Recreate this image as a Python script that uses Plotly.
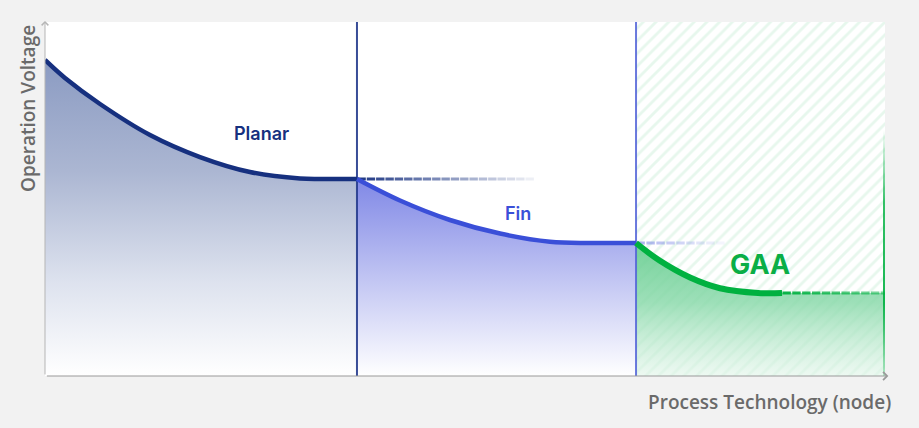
import plotly.graph_objects as go

# ---------------- data (x: process node position 0-100, y: operation voltage 0-100) -------------
planar_x = [0.0, 2.38, 6.55, 12.5, 18.45, 24.4, 30.36, 32.74, 37.14]
planar_y = [89.27, 84.18, 76.84, 68.08, 61.86, 57.63, 55.79, 55.65, 55.65]

fin_x = [37.14, 42.26, 48.21, 54.17, 60.12, 64.88, 70.36]
fin_y = [55.65, 49.58, 44.07, 40.25, 37.94, 37.57, 37.57]

gaa_x = [70.36, 73.21, 76.79, 80.36, 84.88, 87.74]
gaa_y = [37.57, 32.54, 27.82, 24.79, 23.45, 23.45]

planar_ext_end = 57.7
fin_ext_end = 80.4
gaa_ext_end = 100.0

boundaries = [37.14, 70.36, 100.0]
y_top = 100.0

labels = ["Planar", "Fin", "GAA"]
label_x = [25.8, 56.3, 85.1]
label_y = [68.6, 46.0, 31.4]

x_title = "Process Technology (node)"
y_title = "Operation Voltage"

# ---------------- styles -------------
NAVY = "#16307f"
BLUE = "#3a4fd8"
GREEN = "#00b140"

fig = go.Figure()

# GAA hatched zone
fig.add_trace(go.Bar(
    x=[(boundaries[1] + boundaries[2]) / 2], y=[y_top], base=0,
    width=[boundaries[2] - boundaries[1]],
    marker=dict(color="rgba(0,0,0,0)", line=dict(width=0),
                pattern=dict(shape="/", fgcolor="#d0f0dc", bgcolor="rgba(0,0,0,0)",
                             size=9, solidity=0.32, fillmode="overlay")),
    hoverinfo="skip", showlegend=False))

# fills
fig.add_trace(go.Scatter(
    x=planar_x, y=planar_y, mode="none", fill="tozeroy", line_shape="spline",
    fillgradient=dict(type="vertical", start=0, stop=planar_y[0],
                      colorscale=[[0, "#ffffff"], [0.3, "#dde2ee"], [0.65, "#abb6d2"], [1, "#8b9bc2"]]),
    hoverinfo="skip", showlegend=False))
fig.add_trace(go.Scatter(
    x=fin_x, y=fin_y, mode="none", fill="tozeroy", line_shape="spline",
    fillgradient=dict(type="vertical", start=0, stop=fin_y[0],
                      colorscale=[[0, "#ffffff"], [0.4, "#cdd0f5"], [1, "#8088e6"]]),
    hoverinfo="skip", showlegend=False))
gx = gaa_x + [gaa_ext_end]
gy = gaa_y + [gaa_y[-1]]
fig.add_trace(go.Scatter(
    x=gx, y=gy, mode="none", fill="tozeroy", line_shape="spline",
    fillgradient=dict(type="vertical", start=0, stop=gaa_y[0],
                      colorscale=[[0, "rgba(225,245,233,0.6)"], [0.55, "rgba(140,218,172,0.85)"],
                                  [1, "rgba(100,204,142,0.9)"]]),
    hoverinfo="skip", showlegend=False))

# boundary lines
fig.add_trace(go.Scatter(x=[boundaries[0]] * 2, y=[0, y_top], mode="lines",
                         line=dict(color="rgba(35,58,140,0.9)", width=2),
                         hoverinfo="skip", showlegend=False))
fig.add_trace(go.Scatter(x=[boundaries[1]] * 2, y=[0, y_top], mode="lines",
                         line=dict(color="rgba(80,98,215,0.85)", width=2),
                         hoverinfo="skip", showlegend=False))
gw = 0.24
fig.add_trace(go.Scatter(
    x=[boundaries[2] - gw, boundaries[2], boundaries[2], boundaries[2] - gw, boundaries[2] - gw],
    y=[0, 0, 69.5, 69.5, 0], mode="none", fill="toself",
    fillgradient=dict(type="vertical", start=0, stop=69.5,
                      colorscale=[[0, "rgba(0,177,64,0.25)"], [0.3, "rgba(0,177,64,0.9)"],
                                  [0.7, "rgba(0,177,64,0.8)"], [1, "rgba(0,177,64,0)"]]),
    hoverinfo="skip", showlegend=False))


# dashed extensions (fading)
def dashed(x0, x1, y, rgb, a0, a1, width):
    n = int(round((x1 - x0) / 1.07))
    xs = [x0 + 0.55 + i * (x1 - x0 - 0.55) / max(n - 1, 1) for i in range(n)]
    cols = [f"rgba({rgb},{a0 + (a1 - a0) * i / max(n - 1, 1):.3f})" for i in range(n)]
    fig.add_trace(go.Scatter(
        x=xs, y=[y] * n, mode="markers",
        marker=dict(symbol="line-ew", size=6, line=dict(color=cols, width=width)),
        hoverinfo="skip", showlegend=False))


dashed(planar_x[-1], planar_ext_end, planar_y[-1], "22,48,127", 0.95, 0.08, 3)
dashed(fin_x[-1], fin_ext_end, fin_y[-1], "120,132,228", 0.6, 0.08, 3)
dashed(gaa_x[-1], gaa_ext_end, gaa_y[-1], "0,177,64", 0.95, 0.5, 3)

# curves
fig.add_trace(go.Scatter(x=planar_x, y=planar_y, mode="lines", line_shape="spline",
                         line=dict(color=NAVY, width=4.5), hoverinfo="skip", showlegend=False))
fig.add_trace(go.Scatter(x=fin_x, y=fin_y, mode="lines", line_shape="spline",
                         line=dict(color=BLUE, width=4.5), hoverinfo="skip", showlegend=False))
fig.add_trace(go.Scatter(x=gaa_x, y=gaa_y, mode="lines", line_shape="spline",
                         line=dict(color=GREEN, width=6), hoverinfo="skip", showlegend=False))

# labels
lab_cols = [NAVY, BLUE, "#0aae46"]
lab_sizes = [18, 18, 27]
lab_weights = [600, 600, 700]
for t, lx, ly, c, s, w in zip(labels, label_x, label_y, lab_cols, lab_sizes, lab_weights):
    fig.add_annotation(x=lx, y=ly, text=t, showarrow=False,
                       font=dict(family="Inter", size=s, color=c, weight=w))

# axes arrows
fig.add_annotation(xref="paper", yref="paper", x=1.004, y=0, ax=-843, ay=0,
                   axref="pixel", ayref="pixel", text="", showarrow=True,
                   arrowhead=4, arrowsize=1.3, arrowwidth=1.2, arrowcolor="#9a9a9a")
fig.add_annotation(xref="paper", yref="paper", x=0, y=1.003, ax=0, ay=355,
                   axref="pixel", ayref="pixel", text="", showarrow=True,
                   arrowhead=4, arrowsize=1.3, arrowwidth=1.0, arrowcolor="#b5b5b5")

# axis titles
fig.add_annotation(xref="paper", yref="paper", x=(769 - 45) / 840, y=0, yshift=-26,
                   xanchor="center", yanchor="middle", text=x_title, showarrow=False,
                   font=dict(family="Open Sans", size=19, color="#6a6a6a", weight=600))
fig.add_annotation(xref="paper", yref="paper", x=0, xshift=-17, y=(376 - 109) / 354,
                   xanchor="center", yanchor="middle", textangle=-90, text=y_title,
                   showarrow=False,
                   font=dict(family="Open Sans", size=19, color="#6a6a6a", weight=600))

fig.update_layout(
    width=919, height=428,
    margin=dict(l=45, r=34, t=22, b=52),
    paper_bgcolor="#f2f2f2", plot_bgcolor="#ffffff",
    barmode="overlay", bargap=0,
    xaxis=dict(range=[0, 100], showgrid=False, zeroline=False, showticklabels=False,
               ticks="", fixedrange=True),
    yaxis=dict(range=[0, 100], showgrid=False, zeroline=False, showticklabels=False,
               ticks="", fixedrange=True),
    showlegend=False,
)

fig.write_html(
    "out.html",
    config={"displayModeBar": False, "staticPlot": True},
    post_script="document.body.style.margin='0';document.body.style.background='#f2f2f2';"
                "document.documentElement.style.overflow='hidden';",
)
